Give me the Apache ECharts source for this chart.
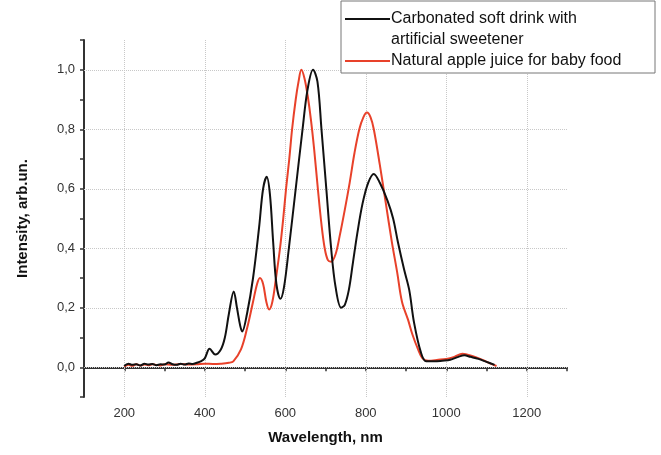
<!DOCTYPE html>
<html>
<head>
<meta charset="utf-8">
<script src="https://cdn.jsdelivr.net/npm/echarts@6/dist/echarts.min.js"></script>
<style>
  html, body { margin: 0; padding: 0; background: #fff; }
  #chart { width: 661px; height: 455px; }
</style>
</head>
<body>
<div id="chart"></div>
<script>
// wavelengths (nm) and intensities
var sodaX = [200, 210, 220, 230, 240, 250, 260, 270, 280, 290, 300, 310, 320, 330, 340, 350, 360, 370, 380, 390,
  400, 412, 426, 440, 450, 460, 472, 480, 488, 493, 505, 520, 535, 545, 554, 562, 570, 578, 588, 597,
  609, 626, 643, 655, 669, 680, 690, 702, 714, 725, 739, 748, 758, 768, 779, 792, 806, 820, 835,
  854, 868, 880, 895, 908, 920, 937, 950, 970, 990, 1010, 1030, 1045, 1060, 1080, 1100, 1120];
var sodaY = [0.004, 0.012, 0.008, 0.01, 0.006, 0.012, 0.009, 0.011, 0.007, 0.01, 0.009, 0.016, 0.01, 0.008, 0.012, 0.009, 0.013, 0.011, 0.015, 0.02,
  0.03, 0.062, 0.043, 0.06, 0.1, 0.18, 0.255, 0.2, 0.14, 0.12, 0.18, 0.3, 0.47, 0.6, 0.64, 0.58, 0.42, 0.28, 0.23, 0.27,
  0.4, 0.6, 0.8, 0.93, 1.0, 0.96, 0.8, 0.6, 0.4, 0.27, 0.2, 0.21, 0.26, 0.35, 0.45, 0.55, 0.62, 0.65, 0.62,
  0.56, 0.5, 0.42, 0.33, 0.26, 0.15, 0.05, 0.02, 0.02, 0.022, 0.025, 0.035, 0.04, 0.035, 0.028, 0.018, 0.008];

var juiceX = [200, 210, 220, 230, 240, 250, 260, 270, 280, 290, 300, 320, 340, 360, 380, 400, 420, 440, 460, 471,
  490, 505, 520, 530, 537, 545, 553, 560, 568, 577, 587, 595, 602, 610, 617, 626, 633, 640, 648, 656,
  664, 672, 681, 690, 698, 706, 714, 725, 735, 748, 760, 772, 784, 794, 803, 812, 820, 835, 850, 865, 878,
  890, 905, 916, 930, 941, 955, 980, 1000, 1020, 1040, 1060, 1090, 1110, 1125];
var juiceY = [0.002, 0.008, 0.005, 0.01, 0.006, 0.009, 0.007, 0.01, 0.008, 0.006, 0.01, 0.008, 0.011, 0.009, 0.01, 0.012, 0.011, 0.012, 0.015, 0.02,
  0.06, 0.13, 0.22, 0.28, 0.3, 0.28, 0.22, 0.194, 0.22, 0.3, 0.4, 0.5, 0.6, 0.7, 0.8, 0.9, 0.96, 1.0, 0.97, 0.91,
  0.83, 0.73, 0.6, 0.48, 0.4, 0.36, 0.355, 0.38, 0.44, 0.53, 0.62, 0.72, 0.8, 0.84, 0.856, 0.84, 0.8, 0.68, 0.55, 0.42, 0.32,
  0.22, 0.16, 0.11, 0.06, 0.03, 0.022, 0.025, 0.028, 0.035, 0.045, 0.04, 0.025, 0.012, 0.004];

var xGrid = [200, 400, 600, 800, 1000, 1200];
var yGrid = [0, 0.2, 0.4, 0.6, 0.8, 1.0];

var sodaName = 'Carbonated soft drink with artificial sweetener';
var juiceName = 'Natural apple juice for baby food';

function pairs(xs, ys) {
  var out = [];
  for (var i = 0; i < xs.length; i++) out.push([xs[i], ys[i]]);
  return out;
}

var gridLines = [];
xGrid.forEach(function (v) { gridLines.push({ xAxis: v }); });
yGrid.forEach(function (v) { gridLines.push({ yAxis: v }); });

var axisColor = '#333';
var font = 'Liberation Sans, Arial, sans-serif';

var chart = echarts.init(document.getElementById('chart'));

var option = {
  animation: false,
  backgroundColor: '#fff',
  grid: { left: 84, right: 94, top: 40, bottom: 58 },
  xAxis: {
    type: 'value',
    min: 100,
    max: 1300,
    interval: 100,
    name: 'Wavelength, nm',
    nameLocation: 'middle',
    nameGap: 33,
    nameTextStyle: { fontFamily: font, fontSize: 15, fontWeight: 'bold', color: '#111' },
    axisLine: { lineStyle: { color: axisColor, width: 2 } },
    axisTick: { length: 4, lineStyle: { color: axisColor, width: 1.5 } },
    axisLabel: {
      margin: 10,
      fontFamily: font,
      fontSize: 13,
      color: '#333',
      formatter: function (v) { return (v % 200 === 0) ? String(v) : ''; }
    },
    splitLine: { show: false }
  },
  yAxis: {
    type: 'value',
    min: -0.1,
    max: 1.1,
    interval: 0.1,
    name: 'Intensity, arb.un.',
    nameLocation: 'middle',
    nameGap: 54,
    nameTextStyle: { fontFamily: font, fontSize: 15, fontWeight: 'bold', color: '#111' },
    axisLine: { show: true, lineStyle: { color: axisColor, width: 2 } },
    axisTick: { show: true, length: 4, lineStyle: { color: axisColor, width: 1.5 } },
    axisLabel: {
      margin: 9,
      fontFamily: font,
      fontSize: 13,
      color: '#333',
      formatter: function (v) {
        var k = Math.round(v * 10);
        if (k < 0 || k > 10 || k % 2 !== 0) return '';
        return (k / 10).toFixed(1).replace('.', ',');
      }
    },
    splitLine: { show: false }
  },
  graphic: [
    {
      type: 'rect',
      shape: { x: 341, y: 1, width: 314, height: 72 },
      style: { fill: '#fff', stroke: '#777', lineWidth: 1 },
      z: 100
    },
    {
      type: 'line',
      shape: { x1: 345, y1: 19, x2: 390, y2: 19 },
      style: { stroke: '#111', lineWidth: 2 },
      z: 101
    },
    {
      type: 'line',
      shape: { x1: 345, y1: 61, x2: 390, y2: 61 },
      style: { stroke: '#e8412a', lineWidth: 2 },
      z: 101
    },
    {
      type: 'text',
      x: 391, y: 19,
      style: { text: 'Carbonated soft drink with', font: '16px ' + font, fill: '#111', verticalAlign: 'middle' },
      z: 101
    },
    {
      type: 'text',
      x: 391, y: 40,
      style: { text: 'artificial sweetener', font: '16px ' + font, fill: '#111', verticalAlign: 'middle' },
      z: 101
    },
    {
      type: 'text',
      x: 391, y: 61,
      style: { text: juiceName, font: '16px ' + font, fill: '#111', verticalAlign: 'middle' },
      z: 101
    }
  ],
  series: [
    {
      name: juiceName,
      type: 'line',
      data: pairs(juiceX, juiceY),
      smooth: 0.35,
      showSymbol: false,
      lineStyle: { color: '#e8412a', width: 2 },
      z: 3,
      markLine: {
        silent: true,
        symbol: 'none',
        label: { show: false },
        lineStyle: { color: '#c8c8c8', type: 'dotted', width: 1 },
        data: gridLines,
        z: 1
      }
    },
    {
      name: sodaName,
      type: 'line',
      data: pairs(sodaX, sodaY),
      smooth: 0.35,
      showSymbol: false,
      lineStyle: { color: '#111', width: 2 },
      z: 4
    }
  ]
};

chart.setOption(option);
</script>
</body>
</html>
